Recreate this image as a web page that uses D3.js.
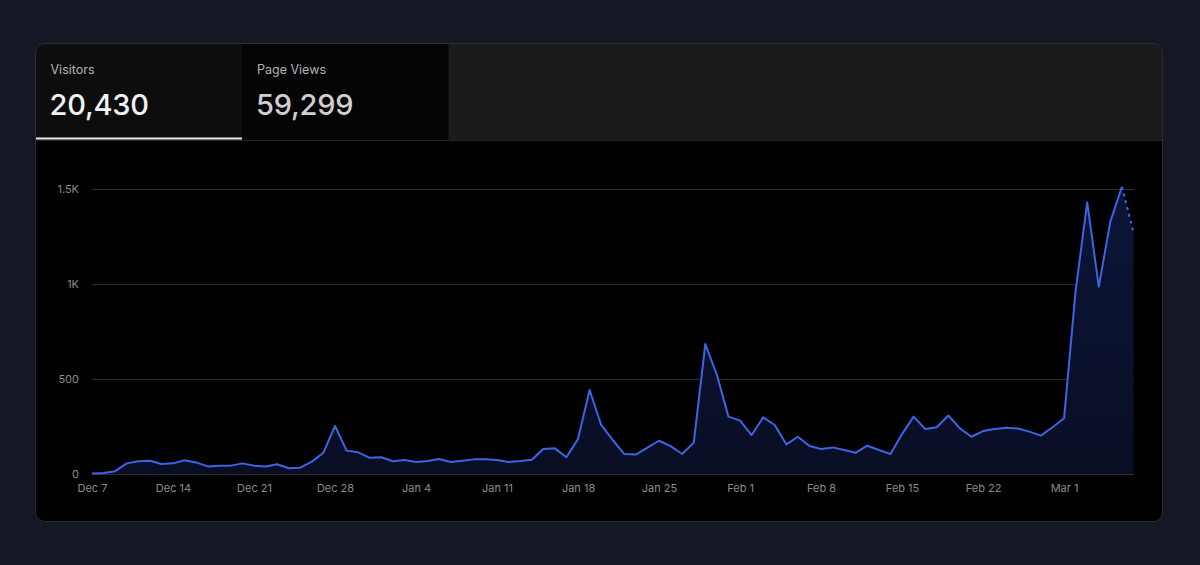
<!DOCTYPE html>
<html>
<head>
<meta charset="utf-8">
<script src="https://cdn.jsdelivr.net/npm/d3@7"></script>
<style>
  html, body { margin: 0; padding: 0; background: #131824; }
  svg { display: block; font-family: Inter, "Noto Sans", sans-serif; }
</style>
</head>
<body>
<svg id="chart" width="1200" height="565"></svg>
<script>
(function(){
  'use strict';

  // daily visitors, Dec 7 2022 .. Mar 7 2023 (last day is partial)
  var startDay = new Date(2022, 11, 7);
  var visitors = [
    3, 5, 15, 56, 67, 70, 53, 56, 72, 61, 40, 44, 44, 56, 44, 40, 51, 30, 33, 65, 112, 253, 123, 114, 85,
    88, 67, 74, 63, 68, 79, 63, 70, 77, 77, 74, 63, 68, 75, 132, 135, 88, 185, 442, 258, 179, 105, 102, 139, 175,
    147, 105, 165, 684, 521, 302,
    281, 205, 298, 258, 156, 196, 147, 132, 140, 126, 112, 149, 126, 105, 210, 302, 237, 246, 308, 240, 196,
    226, 237, 244, 239, 223, 202, 246,
    293, 965, 1430, 986, 1328, 1512, 1272
  ];
  var yTicks = [0, 500, 1000, 1500];
  var tabLabels = ["Visitors", "Page Views"];
  var tabTotals = ["20,430", "59,299"];

  var data = visitors.map(function(v, i){
    return { date: d3.timeDay.offset(startDay, i), value: v };
  });

  var svg = d3.select("#chart");

  // card
  var card = { x: 35.5, y: 43.5, w: 1127, h: 478, r: 9 };
  var headerH = 97;

  svg.append("defs").append("clipPath").attr("id", "cardClip")
    .append("rect")
      .attr("x", card.x).attr("y", card.y)
      .attr("width", card.w).attr("height", card.h)
      .attr("rx", card.r);

  var g = svg.append("g").attr("clip-path", "url(#cardClip)");

  g.append("rect")
    .attr("x", card.x).attr("y", card.y)
    .attr("width", card.w).attr("height", card.h)
    .attr("fill", "#000");

  // header strip
  g.append("rect")
    .attr("x", card.x).attr("y", card.y)
    .attr("width", card.w).attr("height", headerH)
    .attr("fill", "#1b1b1b");

  var tabW = 206.5;
  var tabFills = ["#0d0d0d", "#040404"];
  var valueColors = ["#f2f2f2", "#cfcfcf"];

  tabLabels.forEach(function(lbl, i){
    var tx = card.x + i * tabW;
    g.append("rect")
      .attr("x", tx).attr("y", card.y)
      .attr("width", tabW).attr("height", headerH)
      .attr("fill", tabFills[i]);
    g.append("text")
      .attr("x", tx + 15).attr("y", 74)
      .attr("fill", "#b4b4b4")
      .attr("font-size", 12.5)
      .text(lbl);
    g.append("text")
      .attr("x", tx + 14).attr("y", 115)
      .attr("fill", valueColors[i])
      .attr("font-size", 29)
      .attr("font-weight", 500)
      .attr("letter-spacing", -0.2)
      .text(tabTotals[i]);
  });

  // header bottom line + active tab underline
  g.append("line")
    .attr("x1", card.x).attr("x2", card.x + card.w)
    .attr("y1", card.y + headerH).attr("y2", card.y + headerH)
    .attr("stroke", "#262626");
  g.append("rect")
    .attr("x", card.x).attr("y", card.y + headerH - 3)
    .attr("width", tabW).attr("height", 2)
    .attr("fill", "#e8e8e8");

  // scales
  var xScale = d3.scaleTime()
    .domain([data[0].date, data[data.length - 1].date])
    .range([92, 1133.5]);

  var yScale = d3.scaleLinear()
    .domain([0, 1500])
    .range([474, 189]);

  function kFormat(d){
    return d >= 1000 ? (d / 1000) + "K" : String(d);
  }

  // grid
  var grid = g.append("g");
  grid.selectAll("line")
    .data(yTicks)
    .enter().append("line")
      .attr("x1", 92).attr("x2", 1134)
      .attr("y1", function(d){ return Math.round(yScale(d)) + 0.5; })
      .attr("y2", function(d){ return Math.round(yScale(d)) + 0.5; })
      .attr("stroke", "#2e2e2e");

  // y axis
  var yAxis = d3.axisLeft(yScale)
    .tickValues(yTicks)
    .tickFormat(kFormat)
    .tickSize(0)
    .tickPadding(0);

  var yAxisG = g.append("g")
    .attr("transform", "translate(79,0)")
    .call(yAxis);
  yAxisG.select(".domain").remove();
  yAxisG.selectAll("text")
    .attr("fill", "#8a8a8a")
    .attr("font-size", 11)
    .attr("font-family", "Inter, sans-serif");

  // x axis
  var xAxis = d3.axisBottom(xScale)
    .ticks(d3.timeWednesday.every(1))
    .tickFormat(d3.timeFormat("%b %-d"))
    .tickSize(0)
    .tickPadding(0);

  var xAxisG = g.append("g")
    .attr("transform", "translate(0,484)")
    .call(xAxis);
  xAxisG.select(".domain").remove();
  xAxisG.selectAll("text")
    .attr("fill", "#8a8a8a")
    .attr("font-size", 11)
    .attr("font-family", "Inter, sans-serif");

  // area
  var grad = svg.select("defs").append("linearGradient")
    .attr("id", "areaGrad")
    .attr("x1", 0).attr("y1", 0).attr("x2", 0).attr("y2", 1);
  grad.append("stop").attr("offset", "0%").attr("stop-color", "#0c1538");
  grad.append("stop").attr("offset", "100%").attr("stop-color", "#090e24");

  var area = d3.area()
    .x(function(d){ return xScale(d.date); })
    .y0(yScale(0))
    .y1(function(d){ return yScale(d.value); });

  g.append("path")
    .datum(data)
    .attr("d", area)
    .attr("fill", "url(#areaGrad)");

  var line = d3.line()
    .x(function(d){ return xScale(d.date); })
    .y(function(d){ return yScale(d.value); });

  // full days solid, last (partial) day dashed
  g.append("path")
    .datum(data.slice(0, data.length - 1))
    .attr("d", line)
    .attr("fill", "none")
    .attr("stroke", "#3d64e4")
    .attr("stroke-width", 2)
    .attr("stroke-linejoin", "round");

  g.append("path")
    .datum(data.slice(data.length - 2))
    .attr("d", line)
    .attr("fill", "none")
    .attr("stroke", "#3d64e4")
    .attr("stroke-width", 2)
    .attr("stroke-dasharray", "3,4");

  // card border
  svg.append("rect")
    .attr("x", card.x).attr("y", card.y)
    .attr("width", card.w).attr("height", card.h)
    .attr("rx", card.r)
    .attr("fill", "none")
    .attr("stroke", "#2c2c2c");
})();
</script>
</body>
</html>
